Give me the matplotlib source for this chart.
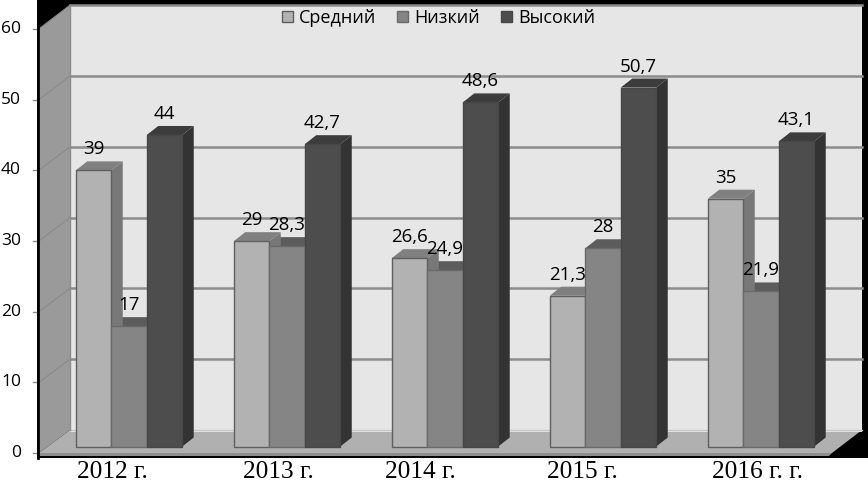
import matplotlib
matplotlib.use("Agg")
import matplotlib.pyplot as plt
from matplotlib.patches import Polygon, Patch

# data
years = ['2012 г.', '2013 г.', '2014 г.', '2015 г.', '2016 г. г.']
srednij = [39, 29, 26.6, 21.3, 35]
nizkij = [17, 28.3, 24.9, 28, 21.9]
vysokij = [44, 42.7, 48.6, 50.7, 43.1]
series_names = ['Средний', 'Низкий', 'Высокий']
y_ticks = [0, 10, 20, 30, 40, 50, 60]

W, H = 868, 483
# pixel scale of the front plane
X0, DX = 129, 158
Y0, DY = 446.5, 7.08

def X(px):
    return (px - X0) / DX

def Y(py):
    return (Y0 - py) / DY

fig = plt.figure(figsize=(W / 100, H / 100), dpi=100, facecolor='white')
ax = fig.add_axes([0, 0, 1, 1])
ax.set_xlim(X(0), X(W))
ax.set_ylim(Y(H), Y(0))
ax.axis('off')

def poly(pts, color, z, edge='none', lw=0):
    ax.add_patch(Polygon([(X(a), Y(b)) for a, b in pts], closed=True, facecolor=color,
                         edgecolor=edge, linewidth=lw, zorder=z))

# ---- frame and walls
poly([(37, 0), (W, 0), (W, 458), (37, 458)], 'black', 0)
poly([(70, 5), (862, 5), (862, 430), (70, 430)], '#e6e6e6', 1)
poly([(39, 29), (70, 5), (70, 430), (39, 453)], '#9a9a9a', 1)
poly([(39, 453), (70, 430), (862, 430), (832, 453)], '#b0b0b0', 1)
poly([(39, 453), (832, 453), (829, 456), (39, 456)], '#8e8e8e', 1)
poly([(70, 430), (862, 430), (862, 432), (70, 432)], '#e6e6e6', 1)

# gridlines on the back wall and left wall
back_shift = 16.5
for t in y_ticks[1:]:
    yb = t + back_shift / DY
    ax.plot([X(70), X(862)], [yb, yb], color='#8c8c8c', lw=1.8, zorder=2)
    ax.plot([X(39), X(70)], [Y(453 - 7.07 * t), yb], color='#8a8a8a', lw=0.8, zorder=2)
ax.plot([X(70), X(862)], [Y(430), Y(430)], color='#c8c8c8', lw=1, zorder=2)
ax.plot([X(70), X(70)], [Y(5), Y(430)], color='#8c8c8c', lw=1, zorder=2)

# ---- bars
bw = 35.5 / DX
cube_x, cube_y = 11.5 / DX, 9 / DY
positions = list(range(len(years)))
all_series = [srednij, nizkij, vysokij]
fronts = ['#b2b2b2', '#858585', '#4d4d4d']
sides = ['#787878', '#6c6c6c', '#333333']
tops = ['#808080', '#5c5c5c', '#3c3c3c']
edges = ['#5f5f5f', '#6a6a6a', '#474747']

# sides and tops go right to left, front faces over them
for k in [2, 1, 0]:
    for p, v in zip(positions, all_series[k]):
        x1 = p + (k - 1) * bw - bw / 2
        x2 = x1 + bw
        ax.add_patch(Polygon([(x2, 0), (x2 + cube_x, cube_y), (x2 + cube_x, v + cube_y), (x2, v)],
                             facecolor=sides[k], edgecolor='none', zorder=3))
        ax.add_patch(Polygon([(x1, v), (x1 + cube_x, v + cube_y), (x2 + cube_x, v + cube_y), (x2, v)],
                             facecolor=tops[k], edgecolor='none', zorder=3))

for k in range(3):
    xs = [p + (k - 1) * bw for p in positions]
    ax.bar(xs, all_series[k], width=bw, color=fronts[k], edgecolor=edges[k], linewidth=1.0,
           zorder=4, label=series_names[k])
    for x, v in zip(xs, all_series[k]):
        ax.text(x, v + 21 / DY, f'{v:g}'.replace('.', ','), ha='center', va='center',
                fontsize=13.5, family='Open Sans', color='black', zorder=6)

# ---- value axis on the front left edge
for t in y_ticks:
    yf = Y(453 - 7.07 * t)
    ax.plot([X(33), X(37)], [yf, yf], color='#8a8a8a', lw=1, zorder=2)
    ax.text(X(21), yf, str(t), ha='right', va='center', fontsize=12.5, family='Open Sans', color='black')
ax.plot([X(38), X(38)], [Y(28), Y(458)], color='black', lw=2, zorder=2)

# ---- category labels, they sit off the groups in the original
label_left = [77, 243, 385, 547, 712]
for name, lx in zip(years, label_left):
    ax.text(X(lx), Y(472), name, ha='left', va='center', fontsize=18.3, family='Liberation Serif', color='black')

# ---- legend
handles = [Patch(facecolor=fronts[k], edgecolor=edges[k], label=series_names[k]) for k in range(3)]
leg = ax.legend(handles=handles, ncol=3, frameon=False, loc='center', bbox_to_anchor=(438.5 / W, 1 - 18 / H),
                prop={'family': 'Open Sans', 'size': 13}, handlelength=0.62, handleheight=0.62,
                handletextpad=0.33, columnspacing=1.15, borderpad=0)
leg.set_zorder(7)

fig.savefig('out.png', dpi=100)
